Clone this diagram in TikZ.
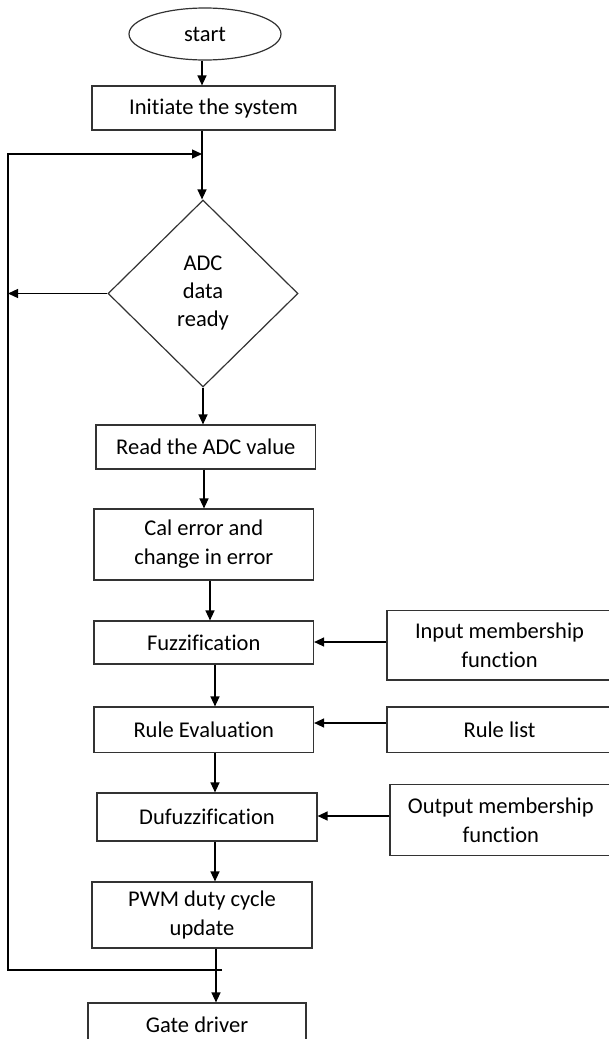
\documentclass[tikz,border=0pt]{standalone}
\usepackage{fontspec}
\setmainfont{Carlito}[Ligatures={NoCommon}]
\usetikzlibrary{shapes.geometric,arrows.meta}
\begin{document}
\begin{tikzpicture}[x=1pt,y=-1pt,
  box/.style={draw=black!80, line width=1.2pt, rectangle, inner sep=0pt, align=center,
              font=\fontsize{22.5}{29}\selectfont},
  arr/.style={line width=1.3pt, -{Triangle[length=10pt,width=9pt]}},
  ln/.style={line width=1.3pt}]
\useasboundingbox (0,0) rectangle (609,1039);

% main column
\node[box, ellipse, minimum width=152pt, minimum height=52pt] (start) at (205,34) {start};
\node[box, minimum width=243pt, minimum height=44pt] (init) at (213.5,108) {Initiate the system};
\node[box, diamond, minimum width=190pt, minimum height=187pt, font=\fontsize{22.5}{28}\selectfont] (dia) at (203,293.5) {ADC\\data\\ready};
\node[box, minimum width=219.5pt, minimum height=44pt] (read) at (205.75,447) {Read the ADC value};
\node[box, minimum width=219.5pt, minimum height=71pt] (cal) at (203.75,544.5) {Cal error and\\change in error};
\node[box, minimum width=219.5pt, minimum height=43pt] (fuzz) at (203.75,642.5) {Fuzzification};
\node[box, minimum width=219.5pt, minimum height=45.5pt] (rule) at (203.75,729.75) {Rule Evaluation};
\node[box, minimum width=220pt, minimum height=48pt] (duf) at (207,817) {Dufuzzification};
\node[box, minimum width=220pt, minimum height=66pt] (pwm) at (202,915) {PWM duty cycle\\update};
\node[box, minimum width=218pt, minimum height=44pt] (gate) at (197,1025) {Gate driver};

% side column
\node[box, minimum width=225pt, minimum height=69.5pt] (inp) at (499.5,645.3) {Input membership\\function};
\node[box, minimum width=225pt, minimum height=45.5pt] (rlist) at (499.5,729.75) {Rule list};
\node[box, minimum width=221.6pt, minimum height=71pt] (outm) at (500.8,820) {Output membership\\function};

% helper coordinates
\coordinate (c1) at (202,0);
\coordinate (c3) at (204,0);
\coordinate (c4) at (210,0);
\coordinate (c5) at (215,0);
\coordinate (c6) at (216,0);
\coordinate (j) at (202,154);
\coordinate (L) at (8,970);
\coordinate (loopstart) at (222,970);
\coordinate (yin) at (0,642);
\coordinate (yrl) at (0,723);
\coordinate (yout) at (0,816);

% main arrows
\draw[arr] (start.south -| c1) -- (init.north -| c1);
\draw[arr] (init.south -| c1) -- (dia.north -| c1);
\draw[arr] (dia.south) -- (read.north -| dia.south);
\draw[arr] (read.south -| c3) -- (cal.north -| c3);
\draw[arr] (cal.south -| c4) -- (fuzz.north -| c4);
\draw[arr] (fuzz.south -| c5) -- (rule.north -| c5);
\draw[arr] (rule.south -| c5) -- (duf.north -| c5);
\draw[arr] (duf.south -| c5) -- (pwm.north -| c5);
\draw[arr] (pwm.south -| c6) -- (gate.north -| c6);

% side inputs
\draw[arr] (inp.west |- yin) -- (fuzz.east |- yin);
\draw[arr] (rlist.west |- yrl) -- (rule.east |- yrl);
\draw[arr] (outm.west |- yout) -- (duf.east |- yout);

% loop back and not-ready branch
\draw[arr] (loopstart) -- (L) -- (L |- j) -- (j);
\draw[arr] (dia.west) -- (dia.west -| L);
\end{tikzpicture}
\end{document}
